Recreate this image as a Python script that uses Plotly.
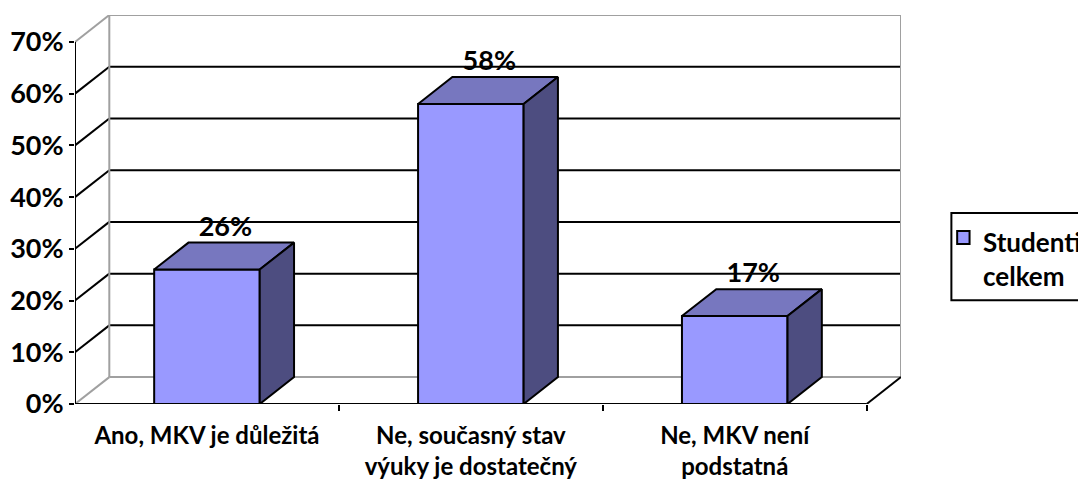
import plotly.graph_objects as go

categories = ["Ano, MKV je důležitá", "Ne, současný stav<br>výuky je dostatečný", "Ne, MKV není<br>podstatná"]
values = [26, 58, 17]
value_labels = ["26%", "58%", "17%"]
y_ticks = [0, 10, 20, 30, 40, 50, 60, 70]
y_tick_labels = ["0%", "10%", "20%", "30%", "40%", "50%", "60%", "70%"]
series_name = "Studenti<br>celkem"

FONT = "Lato"
FRONT = "#9999FF"
TOP = "#7777BF"
SIDE = "#4D4D80"
GREY = "#A0A0A0"

# fake 3D depth in data units
DX = 0.13
DY = 5.2
BAR_W = 0.40
Y_MAX = 70

fig = go.Figure()


def seg(x0, y0, x1, y1, color, width=2):
    fig.add_trace(go.Scatter(x=[x0, x1], y=[y0, y1], mode="lines",
                             line=dict(color=color, width=width),
                             hoverinfo="skip", showlegend=False))


# back wall, side wall and floor
x_left, x_right = -0.5, len(categories) - 0.5
for v in y_ticks:
    c = GREY if v in (0, Y_MAX) else "black"
    seg(x_left, v, x_left + DX, v + DY, c)
    seg(x_left + DX, v + DY, x_right + DX, v + DY, c)
seg(x_left + DX, DY, x_left + DX, Y_MAX + DY, GREY)
seg(x_right + DX, DY, x_right + DX, Y_MAX + DY, GREY)
seg(x_right, 0, x_right + DX, DY, "black")
seg(x_left, 0, x_right, 0, "black")
seg(x_left, 0, x_left, Y_MAX, "black")

# bars as three faces each
for i, v in enumerate(values):
    l, r = i - BAR_W / 2, i + BAR_W / 2
    faces = [
        ([l, r, r, l, l], [0, 0, v, v, 0], FRONT),
        ([l, r, r + DX, l + DX, l], [v, v, v + DY, v + DY, v], TOP),
        ([r, r + DX, r + DX, r, r], [0, DY, v + DY, v, 0], SIDE),
    ]
    for xs, ys, col in faces:
        fig.add_trace(go.Scatter(x=xs, y=ys, mode="lines", fill="toself",
                                 fillcolor=col, line=dict(color="black", width=2),
                                 hoverinfo="skip", showlegend=False))

fig.add_trace(go.Scatter(
    x=[i + 0.07 for i in range(len(values))],
    y=[v + 7.8 for v in values],
    mode="text", text=["<b>" + t + "</b>" for t in value_labels], textposition="middle center",
    textfont=dict(family=FONT, size=27, color="black"),
    cliponaxis=False, hoverinfo="skip", showlegend=False))

# legend drawn by hand so it can run off the right edge like the original
fig.add_shape(type="rect", xref="paper", yref="paper", x0=1.061, x1=1.3, y0=0.267, y1=0.491,
              line=dict(color="black", width=2), fillcolor="white")
fig.add_shape(type="rect", xref="paper", yref="paper", x0=1.068, x1=1.083, y0=0.411, y1=0.445,
              line=dict(color="black", width=2), fillcolor=FRONT)
fig.add_annotation(text="<b>" + series_name + "</b>", xref="paper", yref="paper",
                   x=1.097, y=0.462, xanchor="left", yanchor="top", align="left",
                   showarrow=False, font=dict(family=FONT, size=26, color="black"))

fig.update_layout(
    width=1078, height=481,
    margin=dict(l=75, r=177, t=15, b=77, autoexpand=False),
    paper_bgcolor="white", plot_bgcolor="white",
    showlegend=False,
    xaxis=dict(range=[x_left, x_right + DX], tickvals=list(range(len(categories))),
               ticktext=["<b>" + c + "</b>" for c in categories],
               tickfont=dict(family=FONT, size=24, color="black"),
               showgrid=False, zeroline=False, showline=False, ticks="",
               ticklabelstandoff=15, automargin=False,
               minor=dict(tickvals=[0.5, 1.5, 2.5], ticks="outside", ticklen=6,
                          tickwidth=2, tickcolor="black", showgrid=False)),
    yaxis=dict(range=[0, Y_MAX + DY], tickvals=y_ticks, ticktext=["<b>" + t + "</b>" for t in y_tick_labels],
               tickfont=dict(family=FONT, size=27, color="black"),
               showgrid=False, zeroline=False, showline=False, automargin=False,
               ticks="outside", ticklen=5, tickwidth=2, tickcolor="black"),
)

# page body has a default 8px margin, drop it so the figure fills the window
fig.write_html("out.html", config={"displayModeBar": False},
               post_script="document.body.style.margin='0';")
